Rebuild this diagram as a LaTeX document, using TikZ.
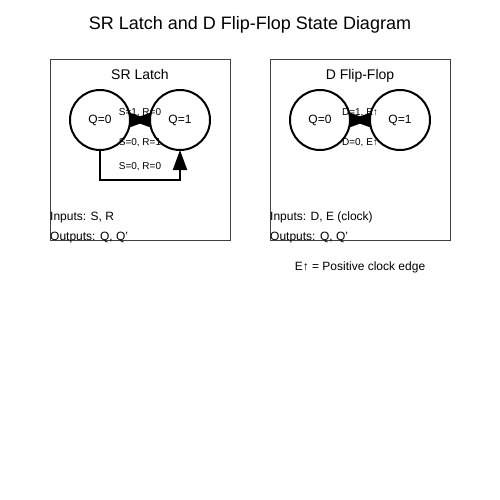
\documentclass[tikz,border=0pt]{standalone}
\usepackage{fontspec}
\setmainfont{Liberation Sans}
\usepackage{tikz}
\usetikzlibrary{arrows.meta}

\begin{document}
\begin{tikzpicture}[x=1pt,y=-1pt,
        state/.style={circle,draw=black,fill=white,line width=2pt,inner sep=0pt,outer sep=0pt,minimum size=60pt,font=\fontsize{12}{14}\selectfont},
        panel/.style={draw=black!75,line width=1pt},
        trans/.style={black,line width=2pt,-{Triangle[length=20pt,width=14pt]}},
        elabel/.style={anchor=base,inner sep=0pt,font=\fontsize{10}{12}\selectfont},
        info/.style={anchor=base west,inner sep=0pt,font=\fontsize{12}{14}\selectfont}]
                \useasboundingbox (0,0) rectangle (500,500);
                % Title
                \node[anchor=base,inner sep=0pt,font=\fontsize{18}{22}\selectfont] (title) at (250,30) {SR Latch and D Flip-Flop State Diagram};

                % SR latch panel
                \draw[panel] (50,60) rectangle (230,240);
                \node[anchor=base,inner sep=0pt,font=\fontsize{14}{17}\selectfont] (srtitle) at (140,80) {SR Latch};
                \node[state] (sr0) at (100,120) {Q=0};
                \node[state] (sr1) at (180,120) {Q=1};
                \draw[trans] (sr0.east) -- (sr1.west);
                \draw[trans] (sr1.west) -- (sr0.east);
                \draw[trans] (sr0.south) -- ++(0,30) -| (sr1.south);
                \node[elabel] (srset) at (140,115) {S=1, R=0};
                \node[elabel] (srreset) at (140,145) {S=0, R=1};
                \node[elabel] (srhold) at (140,169) {S=0, R=0};
                \node[info] (srin) at (50,220) {Inputs: S, R};
                \node[info] (srout) at (50,240) {Outputs: Q, Q'};

                % D flip-flop panel
                \draw[panel] (270,60) rectangle (450,240);
                \node[anchor=base,inner sep=0pt,font=\fontsize{14}{17}\selectfont] (dfftitle) at (360,80) {D Flip-Flop};
                \node[state] (dff0) at (320,120) {Q=0};
                \node[state] (dff1) at (400,120) {Q=1};
                \draw[trans] (dff0.east) -- (dff1.west);
                \draw[trans] (dff1.west) -- (dff0.east);
                \node[elabel] (dffset) at (360,115) {D=1, E↑};
                \node[elabel] (dffreset) at (360,145) {D=0, E↑};
                \node[info] (dffin) at (270,220) {Inputs: D, E (clock)};
                \node[info] (dffout) at (270,240) {Outputs: Q, Q'};

                % Note
                \node[anchor=base,inner sep=0pt,font=\fontsize{12}{14}\selectfont] (note) at (360,270) {E↑ = Positive clock edge};
            \end{tikzpicture}
\end{document}
